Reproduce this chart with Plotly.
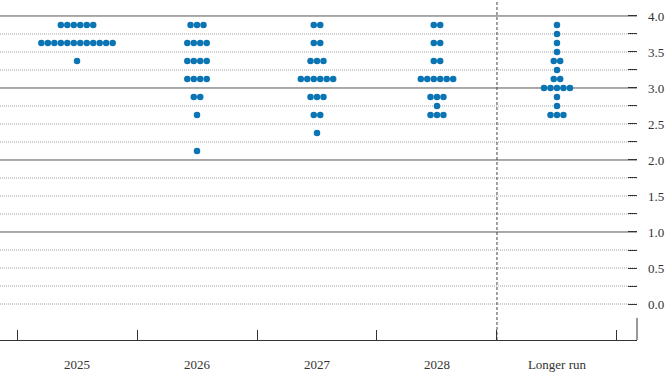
import plotly.graph_objects as go

# ---- data ----
categories = ["2025", "2026", "2027", "2028", "Longer run"]
# (rate, count) pairs per category
dots_2025 = [(3.875, 6), (3.625, 12), (3.375, 1)]
dots_2026 = [(3.875, 3), (3.625, 4), (3.375, 4), (3.125, 4), (2.875, 2), (2.625, 1), (2.125, 1)]
dots_2027 = [(3.875, 2), (3.625, 2), (3.375, 3), (3.125, 6), (2.875, 3), (2.625, 2), (2.375, 1)]
dots_2028 = [(3.875, 2), (3.625, 2), (3.375, 2), (3.125, 6), (2.875, 3), (2.75, 1), (2.625, 3)]
dots_long = [(3.875, 1), (3.75, 1), (3.625, 1), (3.5, 1), (3.375, 2), (3.25, 1), (3.125, 2),
             (3.0, 5), (2.875, 1), (2.75, 1), (2.625, 3)]
all_dots = [dots_2025, dots_2026, dots_2027, dots_2028, dots_long]

y_tickvals = [0.0, 0.5, 1.0, 1.5, 2.0, 2.5, 3.0, 3.5, 4.0]
y_ticktext = ["0.0", "0.5", "1.0", "1.5", "2.0", "2.5", "3.0", "3.5", "4.0"]
y_minorvals = [0.25, 0.75, 1.25, 1.75, 2.25, 2.75, 3.25, 3.75]
grid_solid = [1.0, 2.0, 3.0, 4.0]
grid_dotted = [0.0, 0.25, 0.5, 0.75, 1.25, 1.5, 1.75, 2.25, 2.5, 2.75, 3.25, 3.5, 3.75]

SPACING = 0.054
DOT = "#0B74B3"
FONT = "Times New Roman"

xs, ys = [], []
for ci, groups in enumerate(all_dots):
    for val, n in groups:
        for i in range(n):
            xs.append(ci + (i - (n - 1) / 2) * SPACING)
            ys.append(val)

fig = go.Figure()
fig.add_trace(go.Scatter(x=xs, y=ys, mode="markers",
                         marker=dict(size=6.5, color=DOT, line=dict(width=0)),
                         showlegend=False, hoverinfo="skip"))
# invisible trace for the boundary-tick axis
fig.add_trace(go.Scatter(x=[0], y=[0], xaxis="x2", mode="markers",
                         marker=dict(opacity=0), showlegend=False, hoverinfo="skip"))

shapes = []
for g in grid_dotted:
    shapes.append(dict(type="line", xref="paper", yref="y", x0=0, x1=1, y0=g, y1=g,
                       line=dict(color="#a0a0a0", width=1, dash="1px,1px"), layer="below"))
for g in grid_solid:
    shapes.append(dict(type="line", xref="paper", yref="y", x0=0, x1=1, y0=g, y1=g,
                       line=dict(color="#555555", width=1), layer="below"))
# dashed separator before longer run
shapes.append(dict(type="line", xref="x", yref="paper", x0=len(categories) - 1.5,
                   x1=len(categories) - 1.5, y0=0, y1=1,
                   line=dict(color="#444444", width=1, dash="3px,2px"), layer="below"))
# short right end tick
shapes.append(dict(type="line", xref="paper", yref="paper", x0=1, x1=1, y0=0, y1=0.065,
                   line=dict(color="#333333", width=1)))

xr = [-0.642, 4.667]
fig.update_layout(
    width=670, height=377,
    margin=dict(l=0, r=33, t=0, b=37),
    paper_bgcolor="white", plot_bgcolor="white",
    font=dict(family=FONT, size=13, color="#333333"),
    shapes=shapes,
    xaxis=dict(range=xr, tickvals=list(range(len(categories))), ticktext=categories,
               ticks="", showgrid=False, zeroline=False,
               showline=True, linecolor="#333333", linewidth=1,
               tickfont=dict(family=FONT, size=13, color="#333333"),
               ticklabelstandoff=12),
    xaxis2=dict(range=xr, overlaying="x", anchor="y", side="bottom",
                tickvals=[i - 0.5 for i in range(len(categories) + 1)],
                ticks="inside", ticklen=10, tickcolor="#333333", tickwidth=1,
                showticklabels=False, showgrid=False, zeroline=False, showline=False),
    yaxis=dict(range=[-0.5, 4.222], side="right", tickvals=y_tickvals, ticktext=y_ticktext,
               ticks="inside", ticklen=9, tickcolor="#333333", tickwidth=1,
               minor=dict(tickmode="array", tickvals=y_minorvals, ticks="inside", ticklen=9,
                          tickcolor="#333333", showgrid=False),
               showgrid=False, zeroline=False, showline=False,
               tickfont=dict(family=FONT, size=13, color="#333333"),
               ticklabelstandoff=10),
)

fig.write_html("out.html")
